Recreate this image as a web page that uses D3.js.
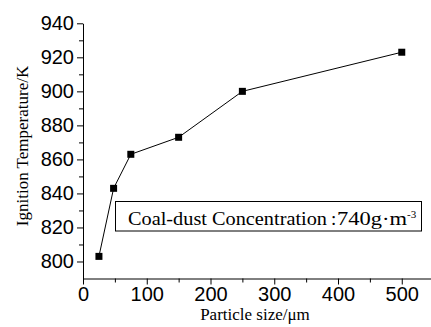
<html>
<head>
<script src="https://d3js.org/d3.v7.min.js"></script>
<style>
body { margin: 0; background: #fff; }
svg { display: block; }
.tick text { font-family: "Liberation Sans", Arial, sans-serif; font-size: 20px; fill: #000; }
.title { font-family: "Liberation Serif", "Times New Roman", serif; font-size: 17px; fill: #000; }
</style>
</head>
<body>
<svg width="431" height="327"></svg>
<script>
  // particle size (um) vs ignition temperature (K)
  var sizes = [25, 48, 75, 150, 250, 500];
  var temps = [803, 843, 863, 873, 900, 923];
  var xTicks = [0, 100, 200, 300, 400, 500];
  var yTicks = [800, 820, 840, 860, 880, 900, 920, 940];

  var svg = d3.select("svg");
  var mLeft = 83, mRight = 433, mTop = 23.3, mBottom = 278.5;

  var x = d3.scaleLinear().domain([0, 549]).range([mLeft, mRight]);
  var y = d3.scaleLinear().domain([790, 940]).range([mBottom, mTop]);

  // minor ticks
  svg.append("g")
    .attr("transform", "translate(0," + mBottom + ")")
    .call(d3.axisBottom(x).tickValues(d3.range(50, 550, 100)).tickSize(4).tickFormat(""))
    .call(g => g.select(".domain").remove());
  svg.append("g")
    .attr("transform", "translate(" + mLeft + ",0)")
    .call(d3.axisLeft(y).tickValues(d3.range(810, 940, 20)).tickSize(4).tickFormat(""))
    .call(g => g.select(".domain").remove());

  svg.append("g")
    .attr("transform", "translate(0," + mBottom + ")")
    .call(d3.axisBottom(x).tickValues(xTicks).tickSize(6).tickPadding(2).tickSizeOuter(0));
  svg.append("g")
    .attr("transform", "translate(" + mLeft + ",0)")
    .call(d3.axisLeft(y).tickValues(yTicks).tickSize(6).tickPadding(3).tickSizeOuter(0));

  svg.selectAll(".domain, .tick line").attr("stroke", "#000");

  var line = d3.line().x((d, i) => x(sizes[i])).y(d => y(d));
  svg.append("path")
    .datum(temps)
    .attr("d", line)
    .attr("fill", "none")
    .attr("stroke", "#000")
    .attr("stroke-width", 1);

  svg.selectAll("rect.pt")
    .data(temps)
    .enter().append("rect")
    .attr("class", "pt")
    .attr("x", (d, i) => x(sizes[i]) - 3.5)
    .attr("y", d => y(d) - 3.5)
    .attr("width", 7)
    .attr("height", 7)
    .attr("fill", "#000");

  // annotation box
  svg.append("rect")
    .attr("x", 115.5).attr("y", 201.5)
    .attr("width", 306).attr("height", 29.5)
    .attr("fill", "#fff").attr("stroke", "#000").attr("stroke-width", 1);
  var note = svg.append("text")
    .attr("class", "title")
    .style("font-size", "19px")
    .attr("y", 224.5);
  note.append("tspan").attr("x", 128)
    .attr("textLength", 199).attr("lengthAdjust", "spacingAndGlyphs")
    .text("Coal-dust Concentration");
  note.append("tspan").attr("x", 331).text(":");
  note.append("tspan").attr("x", 337)
    .attr("textLength", 70).attr("lengthAdjust", "spacingAndGlyphs")
    .text("740g·m");
  note.append("tspan").attr("x", 407).attr("dy", -7).attr("font-size", "11px").text("-3");

  svg.append("text")
    .attr("class", "title")
    .attr("x", 255)
    .attr("y", 320)
    .attr("text-anchor", "middle")
    .text("Particle size/μm");

  svg.append("text")
    .attr("class", "title")
    .attr("transform", "translate(28,146) rotate(-90)")
    .attr("text-anchor", "middle")
    .text("Ignition Temperature/K");
</script>
</body>
</html>
